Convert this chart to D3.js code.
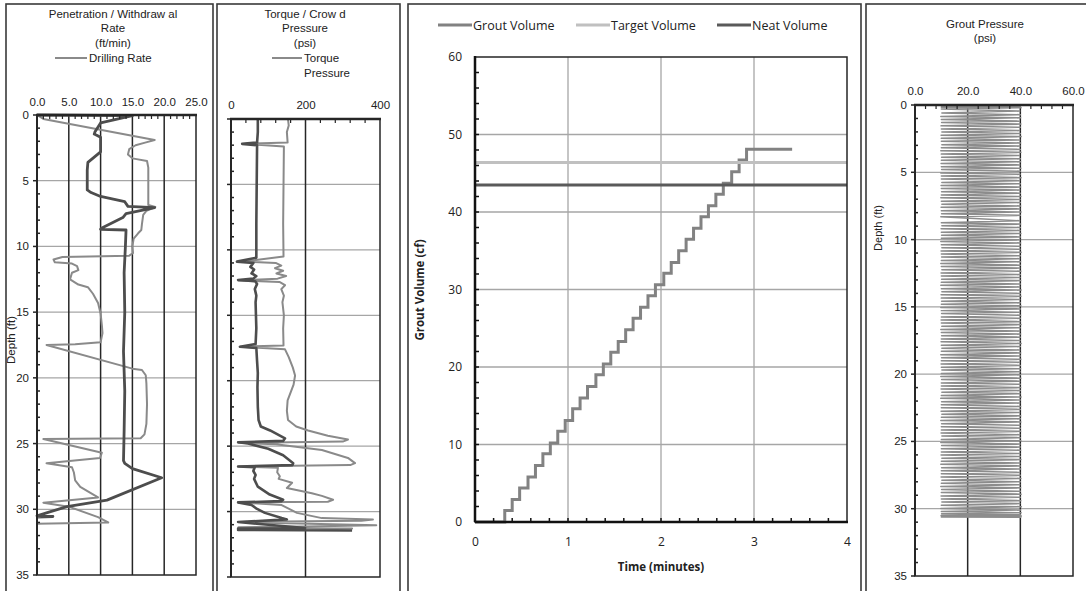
<!DOCTYPE html>
<html>
<head>
<meta charset="UTF-8">
<script src="https://d3js.org/d3.v7.min.js"></script>
<style>
  body { margin: 0; background: #fff; }
  svg text { font-family: "Liberation Sans", Arial, sans-serif; fill: #222; }
  .vol text { font-family: "Open Sans", "Liberation Sans", sans-serif; }
</style>
</head>
<body>
<svg id="chart" width="1086" height="591"></svg>
<script>
// ---- panel 1: penetration / withdrawal rate (ft/min) vs depth (ft)
const drillRate  = [0,1,18.5,17,15.5,14.5,14.3,15,17.3,17.5,17.5,18.6,17.2,16.7,16.5,16.4,15.9,15.2,15,15.1,14.5,4,2.6,2.8,5.5,6.3,6.5,5.5,5.2,6.5,8,8.8,9.6,10,10.2,10.3,10,6,1.5,15,16.5,17.1,17.2,17.3,17.2,16.9,16.3,1,10.2,9.9,1.5,5.5,5.8,6,6.8,9.6,1,5,9.6,11.2,0];
const drillDepth = [0,0.3,1.9,2.1,2.3,2.6,3.0,3.3,3.5,4,6.85,7.0,7.3,7.6,8.3,8.75,9.0,9.4,10,10.5,10.7,10.8,11.0,11.2,11.3,11.5,11.8,12.0,12.5,12.9,13.1,13.6,14.3,15.1,16,16.6,17.3,17.45,17.5,19.3,19.4,19.8,20.4,22,23.5,24.3,24.6,24.65,25.7,26.1,26.5,26.8,27.2,27.8,28.3,29.1,29.5,29.8,30.6,31.0,31.1];
const withdrawRate  = [0,15,10,9.1,9,10,10,8,7.9,7.9,8.5,10,13.8,14.3,18.5,14,13.5,10.2,10,14,13.9,13.7,13.8,13.6,13.8,13.7,13.6,13.8,15,19.6,11,4.7,2,0,2.5,0];
const withdrawDepth = [0,0.05,0.6,1.3,1.45,1.7,2.8,3.6,4.2,5.7,5.9,6.2,6.6,6.95,7.05,7.5,7.8,8.6,8.7,8.75,10,12,15,18,21,24,26.3,26.5,26.9,27.6,29.3,29.8,30.2,30.5,30.55,30.6];
const rateTicks = [0,5,10,15,20,25];

// ---- panel 2: torque / crowd pressure (psi) vs depth (ft)
const torque      = [153,155,150,152,40,142,141,140,141,30,120,135,118,140,122,148,125,20,130,145,135,142,138,142,140,141,25,145,155,166,172,168,152,150,153,175,207,260,314,300,20,120,244,314,333,320,20,126,124,131,128,164,150,217,244,274,260,20,136,177,244,381,350,20,240,390,200,20,325,200];
const torqueDepth = [0,0.5,1.0,1.8,1.9,2.1,5,8,10.5,10.9,11.0,11.2,11.4,11.6,11.8,12.0,12.2,12.35,12.45,12.7,13,13.5,14,15,16,17.3,17.4,17.6,18.2,19.0,19.6,20.3,21.5,22.3,23,23.5,23.8,24.2,24.5,24.65,24.75,24.85,25.3,25.9,26.3,26.45,26.55,26.65,27.0,27.3,27.5,27.8,28.2,28.6,28.8,29.1,29.25,29.3,29.5,30.1,30.5,30.6,30.7,30.8,30.95,31.05,31.15,31.2,31.3,31.4];
const crowd      = [72,72,70,30,70,69,68,68,16,60,52,62,55,68,60,19,65,70,64,68,66,67,68,66,24,68,70,72,71,72,74,80,105,145,140,19,46,100,140,167,165,19,64,60,66,62,72,104,140,135,19,55,70,91,136,150,19,199,19,120,19,325];
const crowdDepth = [0,1,1.8,1.9,2.0,5,8,10.6,10.9,11.0,11.3,11.5,11.8,12.0,12.2,12.3,12.4,12.6,13,13.5,14,15,16,17.2,17.4,17.5,18.5,19.4,20.5,22,23,23.5,23.8,24.4,24.6,24.7,24.8,25.2,25.7,26.3,26.45,26.55,26.6,26.9,27.2,27.5,28.1,28.7,29.1,29.2,29.3,29.5,29.8,30.1,30.5,30.6,30.8,31.25,31.3,31.35,31.4,31.45];
const psiTicks = [0,200,400];

// ---- panel 3: grout volume (cf) vs time (minutes)
const groutTime   = [0,0.32,0.40,0.48,0.57,0.65,0.73,0.81,0.89,0.97,1.05,1.13,1.21,1.30,1.38,1.46,1.54,1.62,1.70,1.78,1.86,1.94,2.03,2.11,2.19,2.27,2.35,2.43,2.51,2.59,2.67,2.76,2.84,2.92,3.41];
const groutVolume = [0,1.5,2.9,4.4,5.8,7.3,8.8,10.2,11.7,13.1,14.6,16.0,17.5,19.0,20.4,21.9,23.3,24.8,26.3,27.7,29.2,30.6,32.1,33.5,35.0,36.5,37.9,39.4,40.8,42.3,43.7,45.2,46.7,48.1,48.1];
const targetVolume = 46.4;
const neatVolume = 43.5;
const timeTicks = [0,1,2,3,4];
const volTicks = [0,10,20,30,40,50,60];

// ---- panel 4: grout pressure (psi) vs depth (ft)
const groutPsiDepth = [
  0,0.04,0.08,0.12,0.16,0.2,0.3,0.45,0.6,0.72,
  0.85,0.95,1.08,1.2,1.3,1.42,1.55,1.65,1.78,1.9,
  2.0,2.12,2.25,2.35,2.48,2.6,2.7,2.82,2.95,3.05,
  3.18,3.3,3.4,3.52,3.65,3.75,3.88,4.0,4.1,4.22,
  4.35,4.45,4.58,4.7,4.8,4.92,5.05,5.15,5.28,5.4,
  5.5,5.62,5.75,5.85,5.98,6.1,6.2,6.32,6.45,6.55,
  6.68,6.8,6.9,7.02,7.15,7.25,7.38,7.5,7.6,7.72,
  7.85,7.95,8.08,8.2,8.3,8.6,8.75,8.85,8.98,9.1,
  9.2,9.32,9.45,9.55,9.68,9.8,9.9,10.02,10.15,10.25,
  10.38,10.5,10.6,10.72,10.85,10.95,11.08,11.2,11.3,11.42,
  11.55,11.65,11.78,11.9,12.0,12.12,12.25,12.35,12.48,12.6,
  12.7,12.82,12.95,13.05,13.18,13.3,13.4,13.52,13.65,13.75,
  13.88,14.0,14.1,14.22,14.35,14.45,14.58,14.7,14.8,14.92,
  15.05,15.15,15.28,15.4,15.5,15.62,15.75,15.85,15.98,16.1,
  16.2,16.32,16.45,16.55,16.68,16.8,16.9,17.02,17.15,17.25,
  17.38,17.5,17.6,17.72,17.85,17.95,18.08,18.2,18.3,18.42,
  18.55,18.65,18.78,18.9,19.0,19.12,19.25,19.35,19.48,19.6,
  19.7,19.82,19.95,20.05,20.18,20.3,20.4,20.52,20.65,20.75,
  20.88,21.0,21.1,21.22,21.35,21.45,21.58,21.7,21.8,21.92,
  22.05,22.15,22.28,22.4,22.5,22.62,22.75,22.85,22.98,23.1,
  23.2,23.32,23.45,23.55,23.68,23.8,23.9,24.02,24.15,24.25,
  24.38,24.5,24.6,24.72,24.85,24.95,25.08,25.2,25.3,25.42,
  25.55,25.65,25.78,25.9,26.0,26.12,26.25,26.35,26.48,26.6,
  26.7,26.82,26.95,27.05,27.18,27.3,27.4,27.52,27.65,27.75,
  27.88,28.0,28.1,28.22,28.35,28.45,28.58,28.7,28.8,28.92,
  29.05,29.15,29.28,29.4,29.5,29.62,29.75,29.85,29.98,30.1,
  30.2,30.3,30.38,30.45,30.5,30.55,30.58,30.6,30.62,30.64];
const groutPsi = [
  10,40,10,40,10,40.3,10,39.8,10.2,40,
  9.8,40.1,10,39.6,10.1,40.2,9.9,40,10,39.7,
  10.2,40,9.9,40.3,10,39.8,10,40.1,10.2,39.9,
  10,40,9.8,40.2,10,39.6,10.1,40,10,40.1,
  9.9,39.8,10,40.2,10.1,40,9.8,39.9,10,40.3,
  10,39.7,10.2,40,9.9,40.1,10,39.8,10.1,40,
  10,40.2,9.8,39.9,10,40,10.2,40.1,9.9,39.8,
  10,40.3,10.1,40,9.8,39.7,10,40.1,10.2,40,
  9.9,39.9,10,40.2,10.1,40,10,39.8,9.8,40.1,
  10,40,10.2,39.9,9.9,40.3,10,40,10.1,39.7,
  10,40.1,9.8,40,10,39.8,10.2,40.2,9.9,40,
  10,39.9,10.1,40.1,10,40,9.8,39.8,10,40.3,
  10.2,40,9.9,40.2,10,39.8,10.1,40,10,40.2,
  9.8,40,10,39.7,10.1,40.1,10,40,9.9,39.9,
  10,40.2,10.2,40,9.8,39.8,10,40.1,10.1,40,
  10,39.9,9.9,40.3,10,40,10.2,39.8,10,40.1,
  9.8,40,10.1,40.2,10,39.7,9.9,40,10,40.1,
  10.2,39.9,10,40,9.8,40.2,10.1,39.8,10,40,
  10,40.1,9.9,40,10.2,39.9,10,40.3,9.8,40,
  10.1,39.8,10,40.1,10,40,9.9,39.7,10.2,40.1,
  10,40,9.8,40.2,10.1,39.9,10,40,10,40.1,
  9.9,39.8,10.2,40,10,40.2,9.8,39.9,10.1,40,
  10,40.1,10,39.8,9.9,40,10.2,40.2,10,39.9,
  9.8,40,10.1,40.1,10,39.7,10,40,9.9,40.2,
  10.2,40,10,39.8,9.8,40.1,10.1,40,10,40.3,
  9.9,40,10,40.2,10.2,39.8,10,40.4,9.8,40.1,
  10,40.3,10.1,40,9.9,40.4,10,40.2,10,40.4];
const groutPsiTicks = [0,20,40,60];
const depthTicks = [0,5,10,15,20,25,30,35];

const svg = d3.select('#chart');
const dark = '#262626', gridGray = '#a6a6a6';

// panel frames
const frames = [[6,4,207,600],[217,4,183,600],[408,4,453,600],[866,4,230,600]];
svg.selectAll('rect.frame').data(frames).join('rect')
   .attr('class','frame')
   .attr('x', d => d[0]).attr('y', d => d[1])
   .attr('width', d => d[2]).attr('height', d => d[3])
   .attr('fill','none').attr('stroke','#3a3a3a').attr('stroke-width',1.6);

// draws one depth log panel
function depthPanel(cfg) {
  const g = svg.append('g');
  const x = d3.scaleLinear().domain(cfg.xDomain).range(cfg.xRange);
  const y = d3.scaleLinear().domain([0,35]).range(cfg.yRange);
  const [x0,x1] = cfg.xRange, [y0,y1] = cfg.yRange;

  // horizontal grid
  g.selectAll('line.hg').data(depthTicks.slice(1,-1)).join('line')
   .attr('x1',x0).attr('x2',x1).attr('y1',d=>y(d)).attr('y2',d=>y(d))
   .attr('stroke',gridGray).attr('stroke-width',1.3);
  // vertical grid
  g.selectAll('line.vg').data(cfg.xTicks.slice(1,-1)).join('line')
   .attr('x1',d=>x(d)).attr('x2',d=>x(d)).attr('y1',y0).attr('y2',y1)
   .attr('stroke',dark).attr('stroke-width',1.5);

  // series
  cfg.series.forEach(s => {
    const pts = s.x.map((v,i) => [v, s.y[i]]);
    g.append('path').datum(pts)
     .attr('d', d3.line().x(d=>x(d[0])).y(d=>y(d[1])))
     .attr('fill','none').attr('stroke',s.color).attr('stroke-width',s.width)
     .attr('stroke-linejoin','round');
  });

  // frame of plot
  g.append('rect').attr('x',x0).attr('y',y0).attr('width',x1-x0).attr('height',y1-y0)
   .attr('fill','none').attr('stroke',dark).attr('stroke-width',1.5);
  g.append('line').attr('x1',x0-1).attr('x2',x1+1).attr('y1',y0).attr('y2',y0)
   .attr('stroke',dark).attr('stroke-width',2.5);
  g.append('line').attr('x1',x0).attr('x2',x0).attr('y1',y0).attr('y2',y1)
   .attr('stroke',dark).attr('stroke-width',2);

  // top axis
  const top = g.append('g').attr('transform',`translate(0,${y0})`)
    .call(d3.axisTop(x).tickValues(cfg.xTicks).tickFormat(cfg.xFormat).tickSize(0).tickPadding(cfg.xPad));
  top.select('.domain').remove();
  top.selectAll('text').attr('font-size',11.5).attr('fill','#222')
     .attr('font-family','"Liberation Sans", Arial, sans-serif');
  g.selectAll('line.mx').data(cfg.minorX).join('line')
   .attr('x1',d=>x(d)).attr('x2',d=>x(d)).attr('y1',y0).attr('y2',y0+4)
   .attr('stroke',dark).attr('stroke-width',1.2);

  // left axis
  const minorY = d3.range(0,36).filter(d => d % 5 !== 0);
  g.selectAll('line.my').data(minorY).join('line')
   .attr('x1',x0).attr('x2',x0+3).attr('y1',d=>y(d)).attr('y2',d=>y(d))
   .attr('stroke',dark).attr('stroke-width',1.5);
  g.selectAll('line.My').data(depthTicks).join('line')
   .attr('x1',x0-4).attr('x2',x0).attr('y1',d=>y(d)).attr('y2',d=>y(d))
   .attr('stroke',dark).attr('stroke-width',1.5);
  if (cfg.yLabels) {
    g.selectAll('text.yl').data(depthTicks).join('text')
     .attr('x',x0-8).attr('y',d=>y(d)).attr('dy','0.35em')
     .attr('text-anchor','end').attr('font-size',11.5).text(d=>d);
  }
  return g;
}

function titleLines(lines, cx, ys) {
  lines.forEach((t,i) => {
    svg.append('text').attr('x',cx).attr('y',ys[i]).attr('text-anchor','middle')
       .attr('font-size',11.5).text(t);
  });
}

// panel 1
depthPanel({
  xDomain:[0,25], xRange:[37,196], yRange:[115,575],
  xTicks: rateTicks, xFormat: d3.format('.1f'), xPad: 9,
  minorX: d3.range(0,26).filter(d => d % 5 !== 0),
  yLabels: true,
  series: [
    {x: drillRate, y: drillDepth, color:'#8a8a8a', width:2},
    {x: withdrawRate, y: withdrawDepth, color:'#4d4d4d', width:2.8}
  ]
});
titleLines(['Penetration / Withdraw al','Rate','(ft/min)'], 113, [18,32,47]);
svg.append('line').attr('x1',55).attr('x2',87).attr('y1',58).attr('y2',58)
   .attr('stroke','#8a8a8a').attr('stroke-width',2);
svg.append('text').attr('x',89).attr('y',62).attr('font-size',11.5).text('Drilling Rate');
svg.append('text').attr('transform','translate(15,340) rotate(-90)')
   .attr('text-anchor','middle').attr('font-size',11.5).text('Depth (ft)');

// panel 2
depthPanel({
  xDomain:[0,400], xRange:[231,380], yRange:[119,577],
  xTicks: psiTicks, xFormat: d3.format('d'), xPad: 10,
  minorX: [40,80,120,160,240,280,320,360],
  yLabels: false,
  series: [
    {x: torque, y: torqueDepth, color:'#8a8a8a', width:2},
    {x: crowd, y: crowdDepth, color:'#4d4d4d', width:2.6}
  ]
});
titleLines(['Torque /  Crow d','Pressure','(psi)'], 305, [18,32,47]);
svg.append('line').attr('x1',272).attr('x2',302).attr('y1',58).attr('y2',58)
   .attr('stroke','#8a8a8a').attr('stroke-width',2);
svg.append('text').attr('x',304).attr('y',62).attr('font-size',11.5).text('Torque');
svg.append('text').attr('x',304).attr('y',77).attr('font-size',11.5).text('Pressure');

// panel 4
depthPanel({
  xDomain:[0,60], xRange:[915,1073], yRange:[105,576],
  xTicks: groutPsiTicks, xFormat: d3.format('.1f'), xPad: 10,
  minorX: d3.range(0,61,4).filter(d => d % 20 !== 0),
  yLabels: true,
  series: [
    {x: groutPsi, y: groutPsiDepth, color:'#8c8c8c', width:1.5}
  ]
});
titleLines(['Grout Pressure','(psi)'], 985, [28,42]);
svg.append('text').attr('transform','translate(882,228) rotate(-90)')
   .attr('text-anchor','middle').attr('font-size',11).text('Depth (ft)');

// panel 3: grout volume vs time
const gv = svg.append('g').attr('class','vol');
const xt = d3.scaleLinear().domain([0,4]).range([475,847]);
const yv = d3.scaleLinear().domain([0,60]).range([522,57]);

gv.selectAll('line.hg').data(volTicks.slice(1,-1)).join('line')
  .attr('x1',xt(0)).attr('x2',xt(4)).attr('y1',d=>yv(d)).attr('y2',d=>yv(d))
  .attr('stroke',gridGray).attr('stroke-width',1.3);
gv.selectAll('line.vg').data(timeTicks.slice(1,-1)).join('line')
  .attr('x1',d=>xt(d)).attr('x2',d=>xt(d)).attr('y1',yv(0)).attr('y2',yv(60))
  .attr('stroke',gridGray).attr('stroke-width',1.3);

const groutPts = groutTime.map((t,i) => [t, groutVolume[i]]);
gv.append('path').datum(groutPts)
  .attr('d', d3.line().x(d=>xt(d[0])).y(d=>yv(d[1])).curve(d3.curveStepAfter))
  .attr('fill','none').attr('stroke','#828282').attr('stroke-width',3);
gv.append('line').attr('x1',xt(0)).attr('x2',xt(4))
  .attr('y1',yv(targetVolume)).attr('y2',yv(targetVolume))
  .attr('stroke','#c0c0c0').attr('stroke-width',3);
gv.append('line').attr('x1',xt(0)).attr('x2',xt(4))
  .attr('y1',yv(neatVolume)).attr('y2',yv(neatVolume))
  .attr('stroke','#5a5a5a').attr('stroke-width',3);

gv.append('rect').attr('x',xt(0)).attr('y',yv(60)).attr('width',xt(4)-xt(0)).attr('height',yv(0)-yv(60))
  .attr('fill','none').attr('stroke',dark).attr('stroke-width',1.5);
gv.append('line').attr('x1',xt(0)).attr('x2',xt(4)+1).attr('y1',yv(0)).attr('y2',yv(0))
  .attr('stroke','#111').attr('stroke-width',2.5);
gv.append('line').attr('x1',xt(0)).attr('x2',xt(0)).attr('y1',yv(0)).attr('y2',yv(60)-1)
  .attr('stroke','#111').attr('stroke-width',2.5);

gv.selectAll('line.mt').data(d3.range(1,20).map(d => d/5)).join('line')
  .attr('x1',d=>xt(d)).attr('x2',d=>xt(d)).attr('y1',yv(0)).attr('y2',yv(0)-4)
  .attr('stroke','#111').attr('stroke-width',1.5);
gv.selectAll('line.mv').data(d3.range(2,60,2)).join('line')
  .attr('x1',xt(0)).attr('x2',xt(0)+4).attr('y1',d=>yv(d)).attr('y2',d=>yv(d))
  .attr('stroke','#111').attr('stroke-width',1.5);

const xa = gv.append('g').attr('transform',`translate(0,${yv(0)})`)
  .call(d3.axisBottom(xt).tickValues(timeTicks).tickFormat(d3.format('d')).tickSize(0).tickPadding(15));
const ya = gv.append('g').attr('transform',`translate(${xt(0)},0)`)
  .call(d3.axisLeft(yv).tickValues(volTicks).tickSize(0).tickPadding(13));
[xa, ya].forEach(a => {
  a.select('.domain').remove();
  a.selectAll('text').attr('font-size',12).attr('fill','#222')
   .attr('font-family','"Open Sans", sans-serif');
});
gv.append('text').attr('x',661).attr('y',571).attr('text-anchor','middle')
  .attr('font-size',11.5).attr('font-weight','bold').text('Time (minutes)');
gv.append('text').attr('transform','translate(424,290) rotate(-90)')
  .attr('text-anchor','middle').attr('font-size',11.5).attr('font-weight','bold').text('Grout Volume (cf)');

// legend
const legendItems = ['Grout Volume','Target Volume','Neat Volume'];
const legendColors = ['#828282','#c0c0c0','#5a5a5a'];
const legendX = [438,576,717];
legendItems.forEach((name,i) => {
  gv.append('line').attr('x1',legendX[i]).attr('x2',legendX[i]+34).attr('y1',25).attr('y2',25)
    .attr('stroke',legendColors[i]).attr('stroke-width',3);
  gv.append('text').attr('x',legendX[i]+35).attr('y',29.5).attr('font-size',12.5).text(name);
});
</script>
</body>
</html>
